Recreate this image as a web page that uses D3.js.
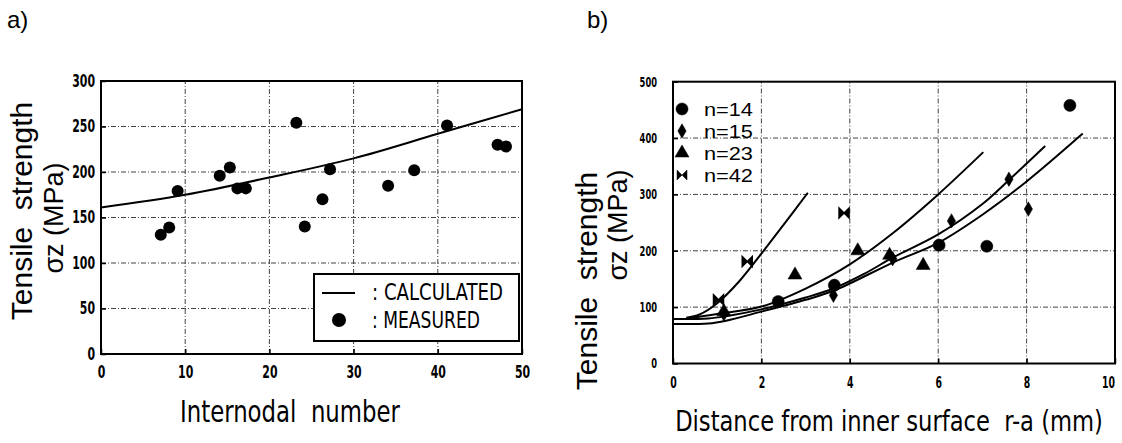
<!DOCTYPE html>
<html>
<head>
<meta charset="utf-8">
<script src="https://cdn.jsdelivr.net/npm/d3@7"></script>
<style>
  body { margin: 0; background: #fff; }
  text { fill: #000; }
  .narrow { font-family: 'Liberation Sans Narrow', 'DejaVu Sans Condensed', 'Arial Narrow', sans-serif; white-space: pre; }
  .plain { font-family: 'Liberation Sans', Arial, sans-serif; white-space: pre; }
</style>
</head>
<body>
<div id="chart"></div>
<script>
// ---- panel a data ----
let aTicksX = [0, 10, 20, 30, 40, 50];
let aTicksY = [0, 50, 100, 150, 200, 250, 300];
let aMeasX = [7.1, 8.1, 9.1, 14.1, 15.3, 16.2, 17.2, 23.2, 24.2, 26.3, 27.2, 34.1, 37.2, 41.1, 47.1, 48.1];
let aMeasY = [131, 139, 179, 196, 205, 182, 182, 254, 140, 170, 203, 185, 202, 251, 230, 228];
let aCalcX = [0, 10, 20, 30, 40, 50];
let aCalcY = [161, 175, 194, 215, 242, 269];

// ---- panel b data ----
let bTicksX = [0, 2, 4, 6, 8, 10];
let bTicksY = [0, 100, 200, 300, 400, 500];
let n14X = [2.38, 3.65, 6.02, 7.1, 8.98];
let n14Y = [110, 139, 210, 208, 458];
let n15X = [1.15, 3.63, 4.97, 6.3, 7.6, 8.04];
let n15Y = [88, 121, 186, 253, 327, 274];
let n23X = [1.15, 2.76, 4.18, 4.9, 5.66];
let n23Y = [92, 157, 200, 192, 174];
let n42X = [1.03, 1.68, 3.87];
let n42Y = [113, 181, 267];
let legendNames = ["n=14", "n=15", "n=23", "n=42"];

let curveAX = [0.3, 0.6, 1.0, 1.5, 2.0, 2.5, 3.05];
let curveAY = [81, 87, 107, 146, 195, 246, 303];
let curveBX = [0.3, 1, 2, 3, 4, 5, 6, 7.02];
let curveBY = [80, 88, 101, 133, 176, 233, 300, 375];
let curveCX = [0, 0.8, 1.2, 2, 3, 3.63, 4.3, 5, 6, 7, 7.62, 8.42];
let curveCY = [79, 80, 84, 96, 117, 133, 158, 189, 229, 283, 327, 386];
let curveDX = [0, 0.8, 1.2, 2, 3, 3.63, 5, 6, 7, 8, 9.27];
let curveDY = [70, 71, 76, 92, 113, 129, 180, 214, 264, 323, 408];

let svg = d3.select("#chart")
    .append("svg")
    .attr("width", 1122)
    .attr("height", 443);

// squeeze a text horizontally so that it takes "w" pixels (scan fonts are narrow)
function fitText(g, x, y, w, anchor, size, cls, str) {
  let t = g.append("text").attr("class", cls)
      .style("font-size", size + "px").style("text-anchor", anchor).text(str);
  let nat = t.node().getComputedTextLength();
  t.attr("transform", `translate(${x},${y}) scale(${w / nat},1)`);
  return t;
}

// panel labels
svg.append("text").attr("class", "plain").attr("x", 7).attr("y", 28)
    .style("font-size", "24px").text("a)");
svg.append("text").attr("class", "plain").attr("x", 587).attr("y", 28)
    .style("font-size", "24px").text("b)");

function gridAndFrame(g, x, y, ticksX, ticksY) {
  let x0 = x.range()[0], x1 = x.range()[1];
  let y0 = y.range()[0], y1 = y.range()[1];
  g.selectAll(".gx").data(ticksX.slice(1, -1)).enter().append("line")
      .attr("x1", d => x(d)).attr("x2", d => x(d))
      .attr("y1", y0).attr("y2", y1)
      .attr("stroke", "#444").attr("stroke-width", 1)
      .attr("stroke-dasharray", "5,2,1,2");
  g.selectAll(".gy").data(ticksY.slice(1, -1)).enter().append("line")
      .attr("x1", x0).attr("x2", x1)
      .attr("y1", d => y(d)).attr("y2", d => y(d))
      .attr("stroke", "#444").attr("stroke-width", 1)
      .attr("stroke-dasharray", "5,2,1,2");
  g.append("rect")
      .attr("x", x0).attr("y", y1)
      .attr("width", x1 - x0).attr("height", y0 - y1)
      .attr("fill", "none").attr("stroke", "#000").attr("stroke-width", 2);
}

// digitW = width each digit should take, so the labels look narrow like the scan
function styleAxis(sel, size, digitW) {
  sel.select(".domain").remove();
  sel.selectAll("line").attr("stroke", "#000").attr("stroke-width", 1.5);
  sel.selectAll("text")
      .attr("class", "narrow")
      .style("font-size", size + "px")
      .style("font-weight", "bold")
      .attr("fill", "#000")
      .attr("textLength", function() { return this.textContent.length * digitW; })
      .attr("lengthAdjust", "spacingAndGlyphs");
}

// ================= panel a =================
let xa = d3.scaleLinear().domain([0, 50]).range([101, 522]);
let ya = d3.scaleLinear().domain([0, 300]).range([354, 81]);
let ga = svg.append("g");

gridAndFrame(ga, xa, ya, aTicksX, aTicksY);

ga.append("g").attr("transform", "translate(0,354)")
    .call(d3.axisBottom(xa).tickValues(aTicksX).tickSizeInner(-5).tickSizeOuter(0).tickPadding(12))
    .call(styleAxis, 17, 7.6);
ga.append("g").attr("transform", "translate(101,0)")
    .call(d3.axisLeft(ya).tickValues(aTicksY).tickSizeInner(-5).tickSizeOuter(0).tickPadding(6))
    .call(styleAxis, 17, 7.6);

let lineA = d3.line().x(d => xa(d[0])).y(d => ya(d[1])).curve(d3.curveCatmullRom);
ga.append("path")
    .datum(aCalcX.map((v, i) => [v, aCalcY[i]]))
    .attr("d", lineA)
    .attr("fill", "none").attr("stroke", "#000").attr("stroke-width", 2);

ga.selectAll(".meas").data(aMeasX.map((v, i) => [v, aMeasY[i]])).enter()
    .append("circle")
    .attr("cx", d => xa(d[0])).attr("cy", d => ya(d[1]))
    .attr("r", 6).attr("fill", "#000");

// legend a
let la = ga.append("g");
la.append("rect").attr("x", 314).attr("y", 274).attr("width", 205).attr("height", 67)
    .attr("fill", "#fff").attr("stroke", "#000").attr("stroke-width", 2);
la.append("line").attr("x1", 322).attr("x2", 355).attr("y1", 293).attr("y2", 293)
    .attr("stroke", "#000").attr("stroke-width", 2);
la.append("circle").attr("cx", 339).attr("cy", 320).attr("r", 7).attr("fill", "#000");
fitText(la, 372, 300, 131, "start", 23, "narrow", ": CALCULATED");
fitText(la, 372, 328, 108, "start", 23, "narrow", ": MEASURED");

// titles a
fitText(ga, 290, 422, 220, "middle", 31, "narrow", "Internodal  number");
ga.append("text").attr("class", "plain")
    .attr("transform", "translate(32,211) rotate(-90)").style("text-anchor", "middle")
    .style("font-size", "30px")
    .text("Tensile  strength");
ga.append("text").attr("class", "plain")
    .attr("transform", "translate(63,218) rotate(-90)").style("text-anchor", "middle")
    .style("font-size", "27px")
    .text("σz (MPa)");

// ================= panel b =================
let xb = d3.scaleLinear().domain([0, 10]).range([673, 1115]);
let yb = d3.scaleLinear().domain([0, 500]).range([363.5, 81.7]);
let gb = svg.append("g");

gridAndFrame(gb, xb, yb, bTicksX, bTicksY);

gb.append("g").attr("transform", "translate(0,363.5)")
    .call(d3.axisBottom(xb).tickValues(bTicksX).tickSizeInner(-5).tickSizeOuter(0).tickPadding(14))
    .call(styleAxis, 15, 6.5)
    .call(g => g.selectAll("text").filter(d => d == 10).attr("dx", -7));
gb.append("g").attr("transform", "translate(673,0)")
    .call(d3.axisLeft(yb).tickValues(bTicksY).tickSizeInner(-5).tickSizeOuter(0).tickPadding(16))
    .call(styleAxis, 14, 5.8);

let lineB = d3.line().x(d => xb(d[0])).y(d => yb(d[1])).curve(d3.curveCatmullRom);
[[curveAX, curveAY], [curveBX, curveBY], [curveCX, curveCY], [curveDX, curveDY]].forEach(c => {
  gb.append("path")
      .datum(c[0].map((v, i) => [v, c[1][i]]))
      .attr("d", lineB)
      .attr("fill", "none").attr("stroke", "#000").attr("stroke-width", 2);
});

let symbols = [
  d3.symbol().type(d3.symbolCircle).size(115)(),
  d3.symbol().type(d3.symbolDiamond).size(60)(),
  d3.symbol().type(d3.symbolTriangle).size(85)(),
  "M-5,-5L5,5L5,-5L-5,5Z"
];
let seriesB = [[n14X, n14Y], [n15X, n15Y], [n23X, n23Y], [n42X, n42Y]];
seriesB.forEach((s, k) => {
  gb.selectAll(".s" + k).data(s[0].map((v, i) => [v, s[1][i]])).enter()
      .append("path")
      .attr("d", symbols[k])
      .attr("transform", d => `translate(${xb(d[0])},${yb(d[1])})`)
      .attr("fill", "#000")
      .attr("stroke", "#000").attr("stroke-width", k == 3 ? 1.5 : 0.5);
});

// legend b
let legY = [109, 131, 153, 175];
legendNames.forEach((name, k) => {
  gb.append("path").attr("d", symbols[k])
      .attr("transform", `translate(682,${legY[k]})`)
      .attr("fill", "#000").attr("stroke", "#000").attr("stroke-width", 0.5);
  fitText(gb, 704, legY[k] + 7, 49, "start", 19, "plain", name);
});

// titles b
fitText(gb, 889, 431, 428, "middle", 29, "narrow", "Distance from inner surface  r-a (mm)");
gb.append("text").attr("class", "plain")
    .attr("transform", "translate(597,281) rotate(-90)").style("text-anchor", "middle")
    .style("font-size", "30px")
    .text("Tensile  strength");
gb.append("text").attr("class", "plain")
    .attr("transform", "translate(627,225) rotate(-90)").style("text-anchor", "middle")
    .style("font-size", "27px")
    .text("σz (MPa)");
</script>
</body>
</html>
